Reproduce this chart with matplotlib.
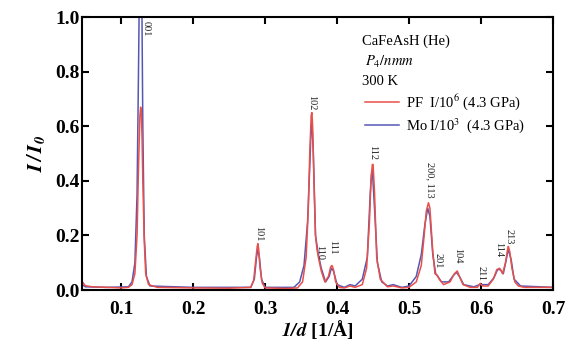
import matplotlib
matplotlib.use('Agg')
import matplotlib.pyplot as plt
import numpy as np

# PF (red) trace
pf_x = [0.046, 0.05, 0.06, 0.08, 0.10, 0.11, 0.115, 0.119, 0.122, 0.124, 0.126, 0.127, 0.128,
        0.129, 0.130, 0.132, 0.134, 0.138, 0.15, 0.20, 0.25, 0.28, 0.284, 0.287, 0.289, 0.290,
        0.291, 0.293, 0.296, 0.30, 0.33, 0.345, 0.352, 0.357, 0.360, 0.362, 0.364, 0.365, 0.366,
        0.368, 0.370, 0.372, 0.374, 0.378, 0.383, 0.388, 0.391, 0.393, 0.395, 0.398, 0.403, 0.41,
        0.418, 0.425, 0.435, 0.441, 0.445, 0.447, 0.449, 0.450, 0.452, 0.455, 0.46, 0.47, 0.478,
        0.49, 0.50, 0.51, 0.517, 0.521, 0.524, 0.527, 0.529, 0.531, 0.533, 0.536, 0.539, 0.542,
        0.548, 0.557, 0.563, 0.567, 0.570, 0.575, 0.585, 0.595, 0.599, 0.602, 0.61, 0.617, 0.622,
        0.626, 0.630, 0.634, 0.637, 0.638, 0.640, 0.643, 0.647, 0.652, 0.66, 0.68, 0.70]
pf_y = [0.03, 0.016, 0.012, 0.010, 0.008, 0.010, 0.02, 0.06, 0.20, 0.45, 0.64, 0.67, 0.65,
        0.55, 0.40, 0.18, 0.06, 0.02, 0.010, 0.008, 0.007, 0.010, 0.035, 0.11, 0.16, 0.17,
        0.15, 0.08, 0.025, 0.008, 0.006, 0.008, 0.03, 0.12, 0.30, 0.50, 0.64, 0.65, 0.60,
        0.38, 0.20, 0.15, 0.12, 0.07, 0.03, 0.05, 0.085, 0.09, 0.075, 0.03, 0.01, 0.008,
        0.015, 0.010, 0.02, 0.08, 0.25, 0.40, 0.46, 0.46, 0.36, 0.12, 0.04, 0.012, 0.015,
        0.008, 0.010, 0.03, 0.09, 0.20, 0.29, 0.32, 0.30, 0.22, 0.14, 0.06, 0.055, 0.04,
        0.02, 0.03, 0.06, 0.07, 0.05, 0.02, 0.010, 0.010, 0.025, 0.015, 0.015, 0.04, 0.075,
        0.08, 0.06, 0.10, 0.15, 0.16, 0.14, 0.08, 0.03, 0.015, 0.010, 0.010, 0.010]

# Mo (blue) trace
mo_x = [0.046, 0.05, 0.08, 0.11, 0.115, 0.119, 0.122, 0.124, 0.126, 0.128, 0.130, 0.132,
        0.135, 0.14, 0.20, 0.28, 0.285, 0.288, 0.290, 0.292, 0.295, 0.30, 0.34, 0.348, 0.354,
        0.359, 0.362, 0.364, 0.365, 0.367, 0.370, 0.374, 0.378, 0.384, 0.389, 0.392, 0.395,
        0.40, 0.41, 0.418, 0.425, 0.435, 0.442, 0.446, 0.448, 0.449, 0.452, 0.456, 0.462,
        0.47, 0.478, 0.49, 0.50, 0.51, 0.517, 0.522, 0.526, 0.529, 0.533, 0.537, 0.54,
        0.545, 0.555, 0.562, 0.566, 0.57, 0.576, 0.59, 0.598, 0.601, 0.61, 0.618, 0.623,
        0.627, 0.631, 0.635, 0.638, 0.642, 0.646, 0.655, 0.70]
mo_y = [0.02, 0.012, 0.010, 0.012, 0.03, 0.10, 0.35, 0.80, 1.30, 1.30, 0.60, 0.20,
        0.05, 0.015, 0.010, 0.010, 0.04, 0.12, 0.15, 0.12, 0.04, 0.010, 0.010, 0.03, 0.09,
        0.25, 0.45, 0.60, 0.62, 0.50, 0.20, 0.13, 0.08, 0.03, 0.05, 0.08, 0.07,
        0.02, 0.010, 0.02, 0.015, 0.04, 0.12, 0.35, 0.43, 0.44, 0.30, 0.10, 0.03,
        0.015, 0.02, 0.010, 0.015, 0.05, 0.13, 0.24, 0.30, 0.27, 0.13, 0.06, 0.05,
        0.03, 0.03, 0.055, 0.065, 0.05, 0.02, 0.012, 0.02, 0.02, 0.02, 0.045, 0.075,
        0.075, 0.06, 0.11, 0.15, 0.11, 0.04, 0.015, 0.010]

# peak labels (hkl), position and label top
hkl = ['001', '101', '102', '110', '111', '112', '200, 113', '201', '104', '211', '114', '213']
hkl_x = [0.134, 0.291, 0.365, 0.376, 0.394, 0.450, 0.529, 0.541, 0.568, 0.600, 0.624, 0.639]
hkl_y = [0.985, 0.235, 0.715, 0.165, 0.185, 0.53, 0.47, 0.135, 0.155, 0.09, 0.175, 0.225]

plt.rcParams['font.family'] = 'Liberation Serif'
plt.rcParams['mathtext.fontset'] = 'stix'

fig = plt.figure(figsize=(5.76, 3.47), dpi=100)
ax = fig.add_axes([0.143, 0.164, 0.817, 0.787])

ax.plot(mo_x, mo_y, color='#5557b5', lw=1.1, label=r'Mo I/10$^3$  (4.3 GPa)')
ax.plot(pf_x, pf_y, color='#e8504a', lw=1.1, label=r'PF  I/10$^6$ (4.3 GPa)')

for lab, x, y in zip(hkl, hkl_x, hkl_y):
    ax.text(x, y, lab, rotation=270, fontsize=7.5, ha='center', va='top', color='#222222')

ax.set_xlim(0.046, 0.7)
ax.set_ylim(0, 1.0)
ax.set_xticks(np.arange(0.1, 0.71, 0.1))
ax.set_yticks(np.arange(0, 1.01, 0.2))
ax.set_xticklabels(['0.1', '0.2', '0.3', '0.4', '0.5', '0.6', '0.7'])
ax.set_yticklabels(['0.0', '0.2', '0.4', '0.6', '0.8', '1.0'])
ax.tick_params(direction='in', top=True, right=True, length=5, width=1.5, labelsize=14)
ax.tick_params(axis='x', pad=8)
ax.tick_params(axis='y', pad=2)
for t in ax.get_xticklabels() + ax.get_yticklabels():
    t.set_fontweight('bold')
for s in ax.spines.values():
    s.set_linewidth(1.5)

ax.set_xlabel(r'$\mathbfit{1/d}$ [1/Å]', fontsize=14, fontweight='bold', labelpad=0)
ax.set_ylabel(r'$\mathbfit{I\,/\,I_0}$', fontsize=15, labelpad=6)

ax.text(0.594, 0.91, 'CaFeAsH (He)', transform=ax.transAxes, fontsize=10.5, va='center')
ax.text(0.60, 0.835, r'$P_4/nmm$', transform=ax.transAxes, fontsize=10.5, va='center')
ax.text(0.594, 0.762, '300 K', transform=ax.transAxes, fontsize=10.5, va='center')

h, l = ax.get_legend_handles_labels()
ax.legend(h[::-1], l[::-1], loc='upper left', bbox_to_anchor=(0.595, 0.735), frameon=False,
          fontsize=10.5, handlelength=2.3, handletextpad=0.5, labelspacing=0.3,
          borderaxespad=0, borderpad=0.2)

plt.savefig('out.png', dpi=100)
